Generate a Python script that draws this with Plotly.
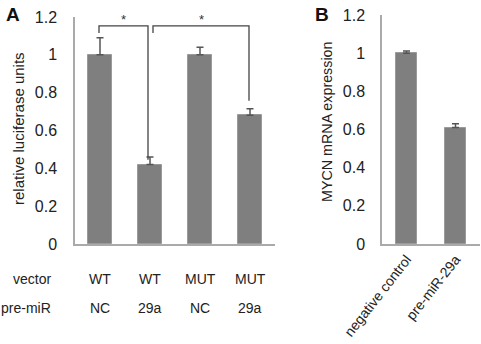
import plotly.graph_objects as go

# ---- data ----
a_vector = ["WT", "WT", "MUT", "MUT"]
a_premir = ["NC", "29a", "NC", "29a"]
a_values = [1.00, 0.42, 1.00, 0.68]
a_errors = [0.09, 0.04, 0.04, 0.035]

b_labels = ["negative control", "pre-miR-29a"]
b_values = [1.00, 0.61]
b_errors = [0.012, 0.02]

a_ticks = [0, 0.2, 0.4, 0.6, 0.8, 1, 1.2]
a_ticktext = ["0", "0.2", "0.4", "0.6", "0.8", "1", "1.2"]

# significance brackets: (left idx, right idx, top y, left leg end, right leg end, label)
brackets = [(0, 1, 1.153, 1.115, 0.445, "*"), (1, 3, 1.153, 1.115, 0.757, "*")]
bracket_offsets = [(-0.02, -0.04), (0.06, -0.02)]

W, H = 481, 344
FONT = "Liberation Sans, Arial, Helvetica, sans-serif"
BAR = "#7f7f7f"
AXC = "#aaaaaa"
ERRC = "#555555"

def px(p):
    return p / W

def py(p):
    return 1 - p / H

fig = go.Figure()
fig.add_trace(go.Bar(
    x=list(range(len(a_values))), y=a_values, width=0.48,
    marker=dict(color=BAR, line=dict(color="#9a9a9a", width=1)),
    error_y=dict(type="data", array=a_errors, arrayminus=[0]*len(a_errors),
                 symmetric=False, color=ERRC, thickness=1.5, width=3.5),
    xaxis="x", yaxis="y", showlegend=False))
fig.add_trace(go.Bar(
    x=list(range(len(b_values))), y=b_values, width=0.41,
    marker=dict(color=BAR, line=dict(color="#9a9a9a", width=1)),
    error_y=dict(type="data", array=b_errors, arrayminus=[0]*len(b_errors),
                 symmetric=False, color=ERRC, thickness=1.5, width=3.5),
    xaxis="x2", yaxis="y2", showlegend=False))

ydom = [py(244), py(17)]
ydom2 = [py(244), py(15)]

common = dict(showgrid=False, zeroline=False, showline=True, linecolor=AXC,
              linewidth=1.5, ticks="", automargin=False)

fig.update_layout(
    width=W, height=H, margin=dict(l=0, r=0, t=0, b=0, autoexpand=False),
    paper_bgcolor="white", plot_bgcolor="white",
    font=dict(family=FONT, size=14, color="#222"),
    bargap=0,
    xaxis=dict(domain=[px(75), px(275)], range=[-0.5, 3.5], showticklabels=False, **common),
    yaxis=dict(domain=ydom, range=[0, 1.2], tickvals=a_ticks, ticktext=a_ticktext,
               ticklabelstandoff=13, tickfont=dict(size=16, color="#222"), **common),
    xaxis2=dict(domain=[px(382), px(480)], range=[-0.5, 1.5], anchor="y2",
                tickvals=list(range(len(b_labels))), ticktext=b_labels, tickangle=-52,
                tickfont=dict(size=14, color="#222"), **common),
    yaxis2=dict(domain=ydom2, range=[0, 1.2], anchor="x2", tickvals=a_ticks,
                ticktext=a_ticktext, ticklabelstandoff=12,
                tickfont=dict(size=16, color="#222"), **common),
)

# brackets
for (l, r, top, lend, rend, lab), (lo, ro) in zip(brackets, bracket_offsets):
    xl, xr = l + lo, r + ro
    fig.add_shape(type="path", xref="x", yref="y",
                  path=f"M {xl} {lend} L {xl} {top} L {xr} {top} L {xr} {rend}",
                  line=dict(color="#444", width=1.3))
    fig.add_annotation(x=(xl + xr) / 2, y=top + 0.035, xref="x", yref="y", text=lab,
                       showarrow=False, font=dict(size=13, color="#333"),
                       xanchor="center", yanchor="middle")

# category rows for panel A
for i, (v, p) in enumerate(zip(a_vector, a_premir)):
    fig.add_annotation(x=i, y=py(279), xref="x", yref="paper", text=v, showarrow=False,
                       font=dict(size=14, color="#222"), xanchor="center", yanchor="middle")
    fig.add_annotation(x=i, y=py(308), xref="x", yref="paper", text=p, showarrow=False,
                       font=dict(size=14, color="#222"), xanchor="center", yanchor="middle")
for txt, yy in [("vector", 279), ("pre-miR", 308)]:
    fig.add_annotation(x=px(53), y=py(yy), xref="paper", yref="paper", text=txt,
                       showarrow=False, xanchor="right", yanchor="middle",
                       font=dict(size=14, color="#222"))

# axis titles
fig.add_annotation(x=px(18), y=py(129), xref="paper", yref="paper",
                   text="relative luciferase units", textangle=-90, showarrow=False,
                   xanchor="center", yanchor="middle", font=dict(size=15, color="#222"))
fig.add_annotation(x=px(327), y=py(122), xref="paper", yref="paper",
                   text="MYCN mRNA expression", textangle=-90, showarrow=False,
                   xanchor="center", yanchor="middle", font=dict(size=14.3, color="#222"))

# panel letters
fig.add_annotation(x=px(13), y=py(15), xref="paper", yref="paper", text="<b>A</b>",
                   showarrow=False, xanchor="center", yanchor="middle",
                   font=dict(size=19, color="#111"))
fig.add_annotation(x=px(322), y=py(15), xref="paper", yref="paper", text="<b>B</b>",
                   showarrow=False, xanchor="center", yanchor="middle",
                   font=dict(size=19, color="#111"))

fig.write_html("out.html", config={"displayModeBar": False},
               post_script="document.body.style.margin='0';document.body.style.overflow='hidden';")
